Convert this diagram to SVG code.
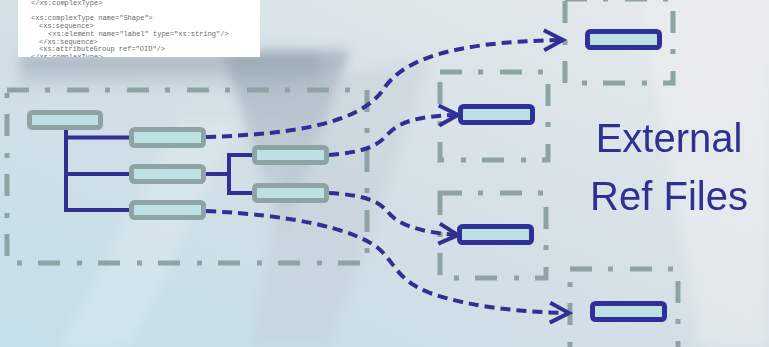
<svg xmlns="http://www.w3.org/2000/svg" width="769" height="347" viewBox="0 0 769 347">
  <defs>
    <linearGradient id="bg" x1="0" y1="1" x2="1" y2="0">
      <stop offset="0" stop-color="#c3e0ea"/>
      <stop offset="0.45" stop-color="#d3dfe6"/>
      <stop offset="1" stop-color="#e7ebed"/>
    </linearGradient>
    <linearGradient id="band" x1="0" y1="0" x2="0" y2="1">
      <stop offset="0" stop-color="#8fa2ad" stop-opacity="0.7"/>
      <stop offset="1" stop-color="#8fa2ad" stop-opacity="0"/>
    </linearGradient>
    <linearGradient id="tri" x1="0" y1="0" x2="0" y2="1">
      <stop offset="0" stop-color="#8c9dab" stop-opacity="0.6"/>
      <stop offset="1" stop-color="#9fb0bc" stop-opacity="0.15"/>
    </linearGradient>
    <filter id="soft" x="-20%" y="-20%" width="140%" height="140%">
      <feGaussianBlur stdDeviation="6"/>
    </filter>
    <clipPath id="codeclip">
      <rect x="18" y="0" width="242" height="57"/>
    </clipPath>
    <marker id="arrow" markerUnits="userSpaceOnUse" markerWidth="26" markerHeight="26" viewBox="0 0 26 26" refX="20" refY="13" orient="auto">
      <path d="M3,3 L22,13 L3,23" fill="none" stroke="#2f2f94" stroke-width="4" stroke-linejoin="miter"/>
    </marker>
    <style>
      .dbox { fill: none; stroke: #8da3a4; stroke-width: 5; stroke-dasharray: 22 16 5 17; }
      .inner { fill: #bde1e3; stroke: #8da3a4; stroke-width: 5; }
      .ext { fill: #bde1e3; stroke: #30309a; stroke-width: 5; }
      .tree { fill: none; stroke: #2f2f94; stroke-width: 4; stroke-linecap: square; }
      .ref { fill: none; stroke: #2f2f94; stroke-width: 4; stroke-dasharray: 10 6; marker-end: url(#arrow); }
      .code { font-family: "Liberation Mono", monospace; font-size: 7px; fill: #6a6a6a; }
      .title { font-family: "Liberation Sans", Arial, sans-serif; font-size: 40px; fill: #2e3192; text-anchor: middle; }
    </style>
  </defs>

  <!-- background -->
  <rect x="0" y="0" width="769" height="347" fill="url(#bg)"/>
  <g filter="url(#soft)">
    <rect x="20" y="55" width="300" height="38" fill="url(#band)"/>
    <polygon points="222,50 350,50 283,240" fill="url(#tri)"/>
    <polygon points="300,80 430,60 330,347 250,347" fill="#b9c4cc" opacity="0.3"/>
    <polygon points="60,347 180,120 240,120 130,347" fill="#ffffff" opacity="0.18"/>
    <polygon points="640,0 769,0 769,347 700,347" fill="#eef0f1" opacity="0.5"/>
  </g>

  <!-- code snippet -->
  <g id="code">
    <rect x="18" y="-2" width="242" height="59" fill="#ffffff"/>
    <g clip-path="url(#codeclip)">
      <text class="code" x="31" y="5">&lt;/xs:complexType&gt;</text>
      <text class="code" x="31" y="20">&lt;xs:complexType name="Shape"&gt;</text>
      <text class="code" x="39" y="28">&lt;xs:sequence&gt;</text>
      <text class="code" x="48" y="36">&lt;xs:element name="label" type="xs:string"/&gt;</text>
      <text class="code" x="39" y="44">&lt;/xs:sequence&gt;</text>
      <text class="code" x="39" y="51">&lt;xs:attributeGroup ref="OID"/&gt;</text>
      <text class="code" x="31" y="59">&lt;/xs:complexType&gt;</text>
    </g>
  </g>

  <!-- containers -->
  <g id="schema-box"><rect class="dbox" x="7" y="90" width="360" height="173"/></g>
  <g id="file-a"><rect class="dbox" x="565" y="-1" width="108" height="84"/></g>
  <g id="file-b"><rect class="dbox" x="440" y="72" width="108" height="88"/></g>
  <g id="file-c"><rect class="dbox" x="440" y="193" width="106" height="85"/></g>
  <g id="file-d"><rect class="dbox" x="570" y="269" width="108" height="100"/></g>

  <!-- connectors -->
  <g id="connectors">
    <path class="tree" d="M66,131 V210 M66,137.5 H129 M66,174 H129 M66,210 H129"/>
    <path class="tree" d="M206,174 H229 M229,155 V193 M229,155 H252 M229,193 H252"/>
    <path class="ref" d="M206,137 C300,134 360,122 383,90 C402,60 450,42 561,40"/>
    <path class="ref" d="M329,155 C362,152 376,148 388,134 C400,121 420,116 456,115"/>
    <path class="ref" d="M329,193 C362,195 378,200 388,212 C398,225 420,232 456,235"/>
    <path class="ref" d="M206,211 C290,215 352,228 378,248 C395,262 396,280 430,293 C470,307 520,312 567,313"/>
  </g>

  <!-- schema nodes -->
  <g id="root"><rect class="inner" x="29.5" y="112.5" width="71" height="15" rx="3"/></g>
  <g id="child1"><rect class="inner" x="131.5" y="129.5" width="72" height="16" rx="3"/></g>
  <g id="child2"><rect class="inner" x="131.5" y="166.5" width="72" height="15" rx="3"/></g>
  <g id="child3"><rect class="inner" x="131.5" y="202.5" width="72" height="15" rx="3"/></g>
  <g id="grandchild1"><rect class="inner" x="254.5" y="147.5" width="72" height="15" rx="3"/></g>
  <g id="grandchild2"><rect class="inner" x="254.5" y="185.5" width="72" height="15" rx="3"/></g>

  <!-- external ref nodes -->
  <g id="ext-a"><rect class="ext" x="587.5" y="31.5" width="72" height="16" rx="3"/></g>
  <g id="ext-b"><rect class="ext" x="460.5" y="106.5" width="72" height="16" rx="3"/></g>
  <g id="ext-c"><rect class="ext" x="459.5" y="226.5" width="72" height="16" rx="3"/></g>
  <g id="ext-d"><rect class="ext" x="592.5" y="303.5" width="72" height="16" rx="3"/></g>

  <!-- label -->
  <g id="label">
    <text class="title" x="669" y="152">External</text>
    <text class="title" x="669" y="210">Ref Files</text>
  </g>
</svg>
